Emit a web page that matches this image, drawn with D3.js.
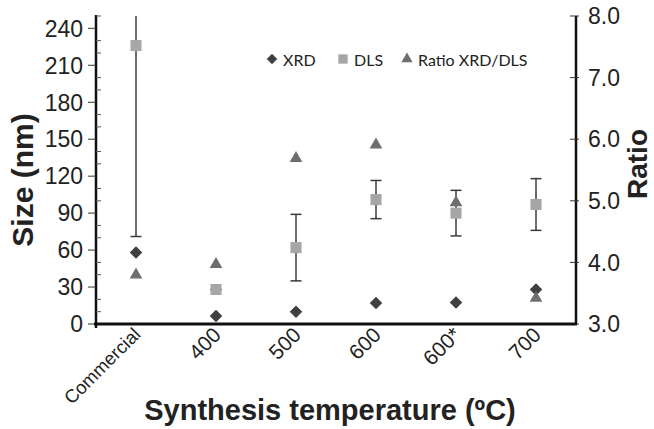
<!DOCTYPE html>
<html>
<head>
<meta charset="utf-8">
<script src="https://cdn.jsdelivr.net/npm/d3@7"></script>
<style>
  body { margin: 0; background: #fff; }
  svg { font-family: "Liberation Sans", Arial, sans-serif; }
</style>
</head>
<body>
<svg></svg>
<script>
const width = 654, height = 429;

// data
const categories = ["Commercial", "400", "500", "600", "600*", "700"];
const xrdSize = [58, 6.5, 10, 17, 17.5, 28];
const dlsSize = [226, 28, 62, 101, 90, 97];
const dlsErr = [155, 0, 27, 15.5, 18.5, 21];
const ratioXrdDls = [3.8, 3.97, 5.69, 5.91, 4.97, 3.42];
const sizeTicks = [0, 30, 60, 90, 120, 150, 180, 210, 240];
const ratioTicks = [3, 4, 5, 6, 7, 8];

const plotLeft = 96, plotRight = 576, plotTop = 16, plotBottom = 324;

const svg = d3.select("svg")
    .attr("width", width)
    .attr("height", height);

const x = d3.scaleBand()
    .domain(categories)
    .range([plotLeft, plotRight]);

const y = d3.scaleLinear()
    .domain([0, 250])
    .range([plotBottom, plotTop]);

const yR = d3.scaleLinear()
    .domain([3, 8])
    .range([plotBottom, plotTop]);

const cx = d => x(d) + x.bandwidth() / 2;

// left axis: labelled ticks to the left, minor ticks every 10 to the right
const gL = svg.append("g");
gL.append("line")
    .attr("x1", plotLeft).attr("x2", plotLeft)
    .attr("y1", plotTop - 1).attr("y2", plotBottom + 4)
    .attr("stroke", "#111").attr("stroke-width", 2.5);

gL.selectAll(".major").data(sizeTicks).enter().append("line")
    .attr("x1", plotLeft - 8).attr("x2", plotLeft)
    .attr("y1", d => y(d)).attr("y2", d => y(d))
    .attr("stroke", "#333").attr("stroke-width", 1);

gL.selectAll(".minor").data(d3.range(10, 251, 10).filter(v => v % 30 !== 0)).enter().append("line")
    .attr("x1", plotLeft).attr("x2", plotLeft + 5)
    .attr("y1", d => y(d)).attr("y2", d => y(d))
    .attr("stroke", "#555").attr("stroke-width", 1);

gL.selectAll(".lab").data(sizeTicks).enter().append("text")
    .attr("x", plotLeft - 13)
    .attr("y", d => y(d))
    .attr("dy", "0.36em")
    .attr("text-anchor", "end")
    .attr("font-size", "23px")
    .attr("fill", "#222")
    .text(d => d);

// right axis
const gR = svg.append("g");
gR.append("line")
    .attr("x1", plotRight).attr("x2", plotRight)
    .attr("y1", plotTop).attr("y2", plotBottom)
    .attr("stroke", "#111").attr("stroke-width", 2.5);

gR.selectAll(".major").data(ratioTicks).enter().append("line")
    .attr("x1", plotRight - 6).attr("x2", plotRight + 3)
    .attr("y1", d => yR(d)).attr("y2", d => yR(d))
    .attr("stroke", "#333").attr("stroke-width", 1);

gR.selectAll(".lab").data(ratioTicks).enter().append("text")
    .attr("x", plotRight + 12)
    .attr("y", d => yR(d))
    .attr("dy", "0.36em")
    .attr("font-size", "23px")
    .attr("fill", "#222")
    .text(d => d3.format(".1f")(d));

// bottom axis
svg.append("line")
    .attr("x1", plotLeft - 2).attr("x2", plotRight + 1)
    .attr("y1", plotBottom).attr("y2", plotBottom)
    .attr("stroke", "#111").attr("stroke-width", 3);

svg.selectAll(".xlab").data(categories).enter().append("text")
    .attr("transform", d => `translate(${cx(d) + 1}, 331) rotate(-45)`)
    .attr("dy", "0.35em")
    .attr("text-anchor", "end")
    .attr("font-size", d => d === "Commercial" ? "18.5px" : "21px")
    .attr("fill", "#222")
    .text(d => d);

// axis titles
svg.append("text")
    .attr("transform", `translate(33, 180) rotate(-90)`)
    .attr("text-anchor", "middle")
    .attr("font-size", "30px")
    .attr("font-weight", "bold")
    .attr("fill", "#222")
    .text("Size (nm)");

svg.append("text")
    .attr("transform", `translate(647, 164) rotate(-90)`)
    .attr("text-anchor", "middle")
    .attr("font-size", "28px")
    .attr("font-weight", "bold")
    .attr("fill", "#222")
    .text("Ratio");

svg.append("text")
    .attr("x", 330)
    .attr("y", 420)
    .attr("text-anchor", "middle")
    .attr("font-size", "29px")
    .attr("font-weight", "bold")
    .attr("fill", "#222")
    .text("Synthesis temperature (ºC)");

// marker shapes
const diamond = d3.symbol().type(d3.symbolDiamond2).size(100);
const square = d3.symbol().type(d3.symbolSquare2).size(155);
const triangle = d3.symbol().type(d3.symbolTriangle2).size(115);

// XRD diamonds
svg.selectAll(".xrd").data(categories).enter().append("path")
    .attr("d", diamond)
    .attr("transform", (d, i) => `translate(${cx(d)}, ${y(xrdSize[i])})`)
    .attr("fill", "#404040");

// DLS error bars, clipped to the plot
const errG = svg.selectAll(".err").data(categories).enter().append("g")
    .attr("stroke", "#3a3a3a").attr("stroke-width", 1.5);

errG.append("line")
    .attr("x1", d => cx(d)).attr("x2", d => cx(d))
    .attr("y1", (d, i) => y(Math.min(dlsSize[i] + dlsErr[i], 250)))
    .attr("y2", (d, i) => y(Math.max(dlsSize[i] - dlsErr[i], 0)));

errG.filter((d, i) => dlsSize[i] + dlsErr[i] <= 250).append("line")
    .attr("x1", d => cx(d) - 5.5).attr("x2", d => cx(d) + 5.5)
    .attr("y1", d => y(dlsSize[categories.indexOf(d)] + dlsErr[categories.indexOf(d)]))
    .attr("y2", d => y(dlsSize[categories.indexOf(d)] + dlsErr[categories.indexOf(d)]));

errG.append("line")
    .attr("x1", d => cx(d) - 5.5).attr("x2", d => cx(d) + 5.5)
    .attr("y1", (d, i) => y(Math.max(dlsSize[i] - dlsErr[i], 0)))
    .attr("y2", (d, i) => y(Math.max(dlsSize[i] - dlsErr[i], 0)));

// DLS squares
svg.selectAll(".dls").data(categories).enter().append("path")
    .attr("d", square)
    .attr("transform", (d, i) => `translate(${cx(d)}, ${y(dlsSize[i])})`)
    .attr("fill", "#a6a6a6");

// ratio triangles (right axis)
svg.selectAll(".ratio").data(categories).enter().append("path")
    .attr("d", triangle)
    .attr("transform", (d, i) => `translate(${cx(d)}, ${yR(ratioXrdDls[i])})`)
    .attr("fill", "#6e6e6e");

// legend
const legendData = [
    {label: "XRD", shape: d3.symbol().type(d3.symbolDiamond2).size(70), color: "#404040", x: 272},
    {label: "DLS", shape: d3.symbol().type(d3.symbolSquare2).size(110), color: "#a6a6a6", x: 343},
    {label: "Ratio XRD/DLS", shape: d3.symbol().type(d3.symbolTriangle2).size(90), color: "#6e6e6e", x: 407}
];

const legend = svg.append("g");
const items = legend.selectAll(".legend-item").data(legendData).enter().append("g")
    .attr("transform", d => `translate(${d.x}, 59)`);

items.append("path")
    .attr("d", d => d.shape())
    .attr("fill", d => d.color);

items.append("text")
    .attr("x", 11)
    .attr("y", 7)
    .attr("font-family", "Lato, 'Open Sans', sans-serif")
    .attr("font-size", "16px")
    .attr("fill", "#222")
    .text(d => d.label);
</script>
</body>
</html>
